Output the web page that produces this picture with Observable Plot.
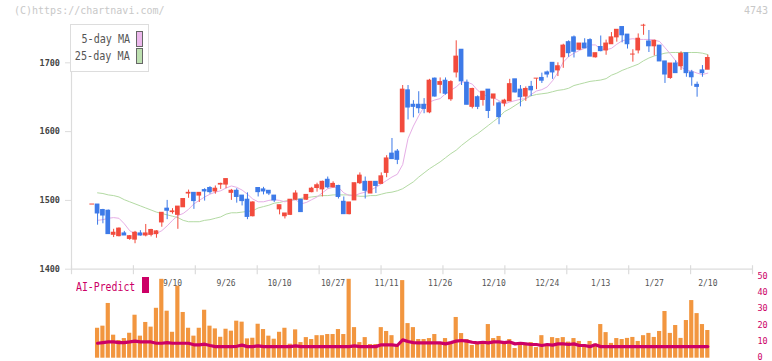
<!DOCTYPE html>
<html><head><meta charset="utf-8">
<script src="https://cdn.jsdelivr.net/npm/d3@7"></script>
<script src="https://cdn.jsdelivr.net/npm/@observablehq/plot@0.6"></script>
<style>
html,body{margin:0;padding:0;background:#fff;}
#wrap{position:relative;width:772px;height:361px;overflow:hidden;font-family:"DejaVu Sans Mono",monospace;background:#fff;}
#wrap svg{position:absolute;left:0;}
.abs{position:absolute;white-space:nowrap;}
</style></head><body>
<div id="wrap"></div>
<script>
// ---- data ----
const openP = [1494,1494,1486,1485,1450,1448,1452,1444,1443,1452,
 1449,1450,1451,1468,1488,1483,1479,1490,1510,1511,
 1507,1515,1518,1513,1523,1523,1511,1514,1507,1501,
 1477,1518,1516,1514,1507,1487,1477,1479,1501,1501,
 1501,1512,1518,1516,1530,1519,1521,1498,1480,1500,
 1525,1527,1510,1527,1524,1540,1568,1571,1599,1660,
 1639,1639,1639,1628,1677,1668,1674,1647,1686,1719,
 1671,1636,1650,1646,1661,1648,1641,1641,1644,1676,
 1661,1651,1665,1677,1678,1686,1700,1689,1708,1730,
 1737,1719,1728,1733,1708,1723,1718,1727,1737,1752,
 1741,1712,1718,1754,1731,1724,1725,1702,1678,1699,
 1695,1714,1686,1668,1689,1690];
const highP = [1494,1494,1487,1486,1458,1460,1455,1449,1455,1456,
 1465,1458,1456,1482,1500,1488,1491,1502,1515,1511,
 1511,1517,1520,1521,1525,1531,1516,1517,1507,1511,
 1498,1518,1519,1514,1507,1493,1481,1501,1514,1501,
 1508,1519,1525,1528,1534,1527,1522,1505,1497,1525,
 1540,1534,1527,1527,1540,1565,1590,1574,1667,1667,
 1645,1658,1648,1676,1678,1678,1678,1674,1732,1719,
 1675,1663,1652,1658,1661,1654,1643,1647,1676,1676,
 1667,1665,1673,1677,1685,1688,1700,1700,1727,1732,
 1739,1728,1735,1735,1714,1739,1733,1744,1748,1752,
 1741,1719,1742,1756,1747,1733,1725,1702,1699,1703,
 1716,1714,1689,1672,1696,1711];
const lowP = [1494,1464,1466,1451,1446,1447,1449,1442,1437,1448,
 1447,1447,1445,1461,1472,1480,1458,1490,1503,1487,
 1497,1499,1509,1509,1516,1517,1500,1496,1492,1472,
 1476,1505,1508,1507,1497,1479,1473,1478,1500,1483,
 1500,1511,1512,1505,1517,1518,1502,1480,1479,1500,
 1523,1502,1510,1510,1524,1533,1560,1552,1599,1617,
 1620,1626,1626,1626,1650,1655,1653,1644,1678,1667,
 1639,1633,1632,1637,1619,1637,1610,1636,1644,1656,
 1636,1644,1651,1661,1670,1678,1676,1680,1692,1708,
 1707,1718,1721,1709,1707,1716,1711,1727,1730,1729,
 1720,1701,1713,1740,1715,1710,1702,1670,1676,1685,
 1689,1679,1666,1650,1679,1690];
const closeP = [1494,1481,1478,1451,1453,1459,1449,1448,1453,1449,
 1452,1457,1455,1482,1485,1484,1491,1502,1511,1499,
 1511,1513,1512,1517,1524,1531,1514,1505,1499,1476,
 1497,1512,1513,1510,1500,1493,1481,1501,1510,1483,
 1508,1517,1522,1527,1519,1524,1505,1480,1497,1525,
 1536,1514,1527,1521,1535,1561,1560,1559,1661,1635,
 1636,1634,1633,1674,1651,1672,1655,1672,1709,1673,
 1639,1662,1636,1658,1630,1654,1621,1645,1669,1657,
 1650,1662,1660,1677,1674,1683,1686,1695,1725,1714,
 1716,1728,1721,1709,1714,1717,1728,1737,1748,1740,
 1727,1712,1735,1754,1724,1732,1702,1683,1699,1685,
 1713,1685,1679,1665,1685,1707];
const ma5 = [null,1471,1472,1474,1475,1474,1466,1456,1451,1451,
 1451,1451,1452,1456,1463,1471,1478,1481,1487,1495,
 1500,1505,1509,1512,1514,1518,1521,1519,1515,1509,
 1502,1498,1498,1500,1501,1500,1498,1500,1501,1495,
 1497,1501,1505,1511,1517,1519,1519,1511,1507,1507,
 1510,1512,1515,1519,1524,1529,1534,1538,1552,1590,
 1608,1623,1636,1643,1646,1648,1655,1660,1665,1672,
 1672,1669,1660,1654,1651,1649,1645,1640,1643,1645,
 1647,1648,1654,1659,1661,1665,1674,1686,1701,1709,
 1714,1718,1721,1726,1726,1720,1719,1721,1727,1732,
 1734,1735,1734,1734,1734,1733,1731,1722,1713,1703,
 1694,1689,1688,1685,1683,1685];
const ma25 = [null,1511,1510,1508,1507,1505,1501,1498,1495,1492,
 1489,1486,1483,1481,1479,1477,1475,1471,1469,1469,
 1469,1471,1472,1474,1476,1480,1482,1482,1483,1484,
 1485,1489,1491,1493,1496,1497,1499,1500,1501,1503,
 1504,1505,1506,1507,1507,1508,1508,1508,1508,1507,
 1506,1506,1507,1507,1509,1511,1512,1514,1517,1522,
 1527,1534,1540,1546,1551,1556,1562,1568,1573,1580,
 1586,1592,1597,1603,1609,1615,1621,1629,1633,1638,
 1643,1648,1652,1654,1655,1656,1658,1660,1661,1663,
 1667,1669,1671,1673,1674,1675,1677,1682,1685,1689,
 1692,1695,1698,1703,1707,1710,1712,1714,1715,1715,
 1715,1715,1715,1715,1714,1712];
const barValues = [null,18.6,19.9,34,14.3,11,12.2,15.5,26.7,13.7,
 22.2,19.3,31,49,29.2,16.1,44.7,28.4,18.6,13.7,
 18.6,29.8,19.9,18.2,13,18,16.8,23,22.4,12,
 12.4,21.1,17.8,13.7,11.8,16.1,18.6,8.7,17.6,9.7,
 12.8,11.6,14,14,14.7,14.7,17.8,14.7,49,19,
 9.7,12.8,8.5,8.5,19,16.6,14,8.5,48.2,21.5,
 19,11.6,11.6,12.2,14.7,8.5,12.2,9.1,25.3,15.3,
 11.6,7.9,9.1,8.5,20.9,12.2,13.5,9.1,11.6,6,
 9.7,8.5,9.7,6.6,14,7.5,12.8,12.2,12.8,10,
 12.2,10.4,7,10.4,8.8,20.9,15.9,9.2,12.2,11.6,
 12.3,12.9,10.4,14,15.4,12.9,16.6,29,15.4,20.3,
 12.3,23.4,35.8,27.7,20.9,17.2];
const predict = [null,9.3,9.7,10.1,10.1,9.7,9.7,10.1,10.6,10.1,
 10.1,10.1,9.3,9.3,9.7,9.3,9.3,9.3,9.3,8.3,
 8.3,8.7,7.9,7.2,7.2,7.2,7.2,7.4,8.1,7.2,
 7.2,7.7,7.2,7.2,7.2,7.2,7.2,7.2,7.7,7.2,
 7.2,7.2,7.2,7.2,7.2,7.2,7.2,7.2,7.2,7.7,
 7.2,7.2,7.2,7.2,8.3,8.3,8.3,7.9,11.4,10.4,
 9.7,9.5,9.5,9.5,9.5,9.5,8.9,9.7,10.6,11,
 10.6,9.9,9.5,9.9,9.5,10.1,10.1,9.7,10.1,8.9,
 9.3,8.9,8.5,8.5,7.9,8.5,8.1,8.9,8.9,8.5,
 8.9,7.9,7.9,7.2,8.3,7.2,7.2,7.2,7.2,7.2,
 7.2,7.2,7.2,7.2,7.2,7.2,7.2,7.2,7.2,7.2,
 7.2,7.2,7.2,7.2,7.2,7.2];
const dateLabels = ["9/10","9/26","10/10","10/27","11/11","11/26","12/10","12/24","1/13","1/27","2/10"];
const dateLabelIndex = [15,25,35,45,55,65,75,85,95,105,115];
const priceTicks = [1400,1500,1600,1700];
const predictTicks = [0,10,20,30,40,50];

// ---- tables ----
const candles = d3.range(openP.length).map(i => ({
  i, open: openP[i], high: highP[i], low: lowP[i], close: closeP[i],
  dir: closeP[i] >= openP[i] ? "up" : "down"
}));
const maRows = d3.range(openP.length).map(i => ({i, ma5: ma5[i], ma25: ma25[i]})).filter(d => d.ma5 != null);
const barRows = d3.range(openP.length).map(i => ({i, v: barValues[i], p: predict[i]})).filter(d => d.v != null);
const labelOf = new Map(dateLabelIndex.map((d, k) => [d, dateLabels[k]]));

const xDomain = [-3.87, 123.35];
const frameTicks = d3.range(12).map(k => xDomain[0] + k * (xDomain[1] - xDomain[0]) / 11);
const grid = "#dcdcdc";
const RED = "#f24b3d", BLUE = "#3d7ae8";
const half = 0.44;

const wrap = document.getElementById("wrap");

const main = Plot.plot({
  width: 772, height: 295,
  marginLeft: 71, marginRight: 20, marginTop: 24, marginBottom: 26.3,
  x: {domain: xDomain, axis: null},
  y: {domain: [1400, 1755.7], axis: null},
  color: {domain: ["up", "down"], range: [RED, BLUE]},
  style: {background: "transparent", overflow: "visible", fontFamily: "DejaVu Sans Mono"},
  marks: [
    Plot.ruleX([xDomain[0]], {stroke: grid, strokeWidth: 1.2}),
    Plot.ruleY([priceTicks[0]], {stroke: grid, strokeWidth: 1.2}),
    Plot.axisX(frameTicks, {anchor: "bottom", label: null, tickSize: 9, dy: -3.5, tickFormat: () => "", stroke: grid, strokeWidth: 1.2}),
    Plot.axisY(priceTicks, {anchor: "left", label: null, tickSize: 6, tickPadding: 5.5, stroke: grid, fill: "#444", fontSize: 8.5, fontWeight: "bold", tickFormat: d => String(d)}),
    Plot.axisX(dateLabelIndex, {anchor: "bottom", label: null, tickSize: 0, tickPadding: 11.5, tickFormat: d => labelOf.get(d), fill: "#555", fontSize: 8}),
    Plot.line(maRows, {x: "i", y: "ma25", stroke: "#b3daa3", strokeWidth: 1}),
    Plot.line(maRows, {x: "i", y: "ma5", stroke: "#e6aee6", strokeWidth: 1}),
    Plot.ruleX(candles, {x: "i", y1: "low", y2: "high", stroke: "dir", strokeWidth: 1}),
    Plot.rect(candles, {x1: d => d.i - half, x2: d => d.i + half, y1: "open", y2: "close", fill: "dir", insetTop: -0.5, insetBottom: -0.5})
  ]
});
main.style.top = "0px";
wrap.appendChild(main);

const sub = Plot.plot({
  width: 772, height: 91,
  marginLeft: 71, marginRight: 20, marginTop: 7.2, marginBottom: 3.3,
  x: {domain: xDomain, axis: null},
  y: {domain: [0, 50], axis: null},
  style: {background: "transparent", overflow: "visible", fontFamily: "DejaVu Sans Mono"},
  marks: [
    Plot.rect(barRows, {x1: d => d.i - 0.39, x2: d => d.i + 0.39, y1: 0, y2: "v", fill: "#f2963f"}),
    Plot.line(barRows, {x: "i", y: "p", stroke: "#cc0066", strokeWidth: 3.2}),
    Plot.axisY(predictTicks, {anchor: "right", label: null, tickSize: 0, tickPadding: 5, dy: -1.2, fill: "#cc0066", fontSize: 8.5, tickFormat: d => String(d)})
  ]
});
sub.style.top = "270px";
wrap.appendChild(sub);

function addDiv(text, css) {
  const el = document.createElement("div");
  el.className = "abs";
  el.textContent = text;
  Object.assign(el.style, css);
  wrap.appendChild(el);
  return el;
}
// header texts
addDiv("(C)https://chartnavi.com/", {left: "14px", top: "5px", fontSize: "10px", lineHeight: "12px", color: "#c8c8c8"});
addDiv("4743", {right: "4px", top: "5px", fontSize: "10px", lineHeight: "12px", color: "#c8c8c8"});
// legend box
addDiv("", {left: "70px", top: "24px", width: "77px", height: "46px", border: "1px solid #dddddd", background: "#fff"});
addDiv("5-day MA", {right: "642px", top: "33px", fontSize: "12.5px", lineHeight: "12px", color: "#555", transform: "scaleX(0.81)", transformOrigin: "right center"});
addDiv("25-day MA", {right: "642px", top: "49.5px", fontSize: "12.5px", lineHeight: "12px", color: "#555", transform: "scaleX(0.81)", transformOrigin: "right center"});
addDiv("", {left: "136px", top: "31px", width: "5px", height: "14px", border: "1px solid #666", background: "#ecb8ec"});
addDiv("", {left: "136px", top: "48px", width: "5px", height: "14px", border: "1px solid #666", background: "#bde0b0"});
// AI-Predict label
addDiv("AI-Predict", {left: "75.5px", top: "280.5px", fontSize: "12px", lineHeight: "12px", color: "#cc0066", transform: "scaleX(0.82)", transformOrigin: "left center"});
addDiv("", {left: "142px", top: "277px", width: "7px", height: "16px", background: "#cc0066"});
</script>
</body></html>
